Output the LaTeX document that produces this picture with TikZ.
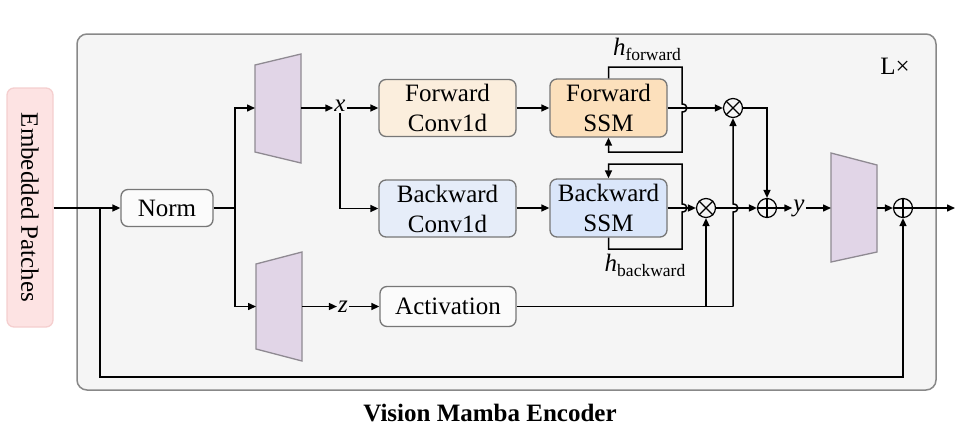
\documentclass[tikz,border=0pt]{standalone}
\usepackage{fontspec}
\setmainfont{Liberation Serif}
\usetikzlibrary{arrows.meta}
\definecolor{bgfill}{HTML}{F5F5F5}
\definecolor{bgdraw}{HTML}{888888}
\definecolor{boxdraw}{HTML}{777777}
\definecolor{epfill}{HTML}{FDE3E3}
\definecolor{epdraw}{HTML}{F5CFCF}
\definecolor{fconvfill}{HTML}{FBEEDD}
\definecolor{fssmfill}{HTML}{FCE0BC}
\definecolor{bconvfill}{HTML}{E6EDF9}
\definecolor{bssmfill}{HTML}{DAE6FA}
\definecolor{trapfill}{HTML}{E1D5E7}
\definecolor{trapdraw}{HTML}{8F8A92}
\tikzset{
  base/.style={font=\fontsize{25}{27}\selectfont},
  blk/.style={base, draw=boxdraw, line width=1.3pt, rounded corners=7pt, align=center, inner sep=0pt},
  lbl/.style={base, inner sep=1pt},
  op/.style={circle, draw=black, line width=1.2pt, minimum size=19pt, inner sep=0pt},
  wire/.style={line width=1.5pt, black},
  arr/.style={wire, -{Triangle[length=8pt,width=7pt]}},
  trap/.style={fill=trapfill, draw=trapdraw, line width=1.3pt},
}
\begin{document}
\begin{tikzpicture}[x=1pt,y=-1pt]
\useasboundingbox (0,0) rectangle (980,440);
% outer encoder box
\draw[fill=bgfill, draw=bgdraw, line width=1.5pt, rounded corners=10pt] (77,34) rectangle (936,390);
\node[base] (lx) at (895,66) {L×};
\node[base, font=\fontsize{25}{27}\selectfont\bfseries] (title) at (490,413) {Vision Mamba Encoder};

% Embedded patches
\node[blk, draw=epdraw, fill=epfill, minimum width=46pt, minimum height=239pt] (ep) at (30,207.5) {\rotatebox{-90}{Embedded Patches}};
% Norm
\node[blk, fill=white!60!bgfill, minimum width=92pt, minimum height=37pt] (norm) at (167,208) {Norm};

% trapezoids
\draw[trap] (255,65) -- (301,54) -- (301,163) -- (255,152) -- cycle;
\draw[trap] (256,264) -- (302,252) -- (302,361) -- (256,349) -- cycle;
\draw[trap] (831,153) -- (877,165) -- (877,252) -- (831,262) -- cycle;
\coordinate (t1in) at (255,108);
\coordinate (t1out) at (301,108);
\coordinate (t2in) at (256,306.5);
\coordinate (t2out) at (302,306.5);
\coordinate (t3in) at (831,208);
\coordinate (t3out) at (877,208);

% labels
\node[lbl] (xl) at (340,106) {\itshape x};
\node[lbl] (zl) at (343,306.5) {\itshape z};
\node[lbl] (yl) at (799,208) {\itshape y};

% blocks
\node[blk, fill=fconvfill, minimum width=137pt, minimum height=57pt] (fconv) at (447.5,108) {Forward\\[3pt]Conv1d};
\node[blk, fill=bconvfill, minimum width=137pt, minimum height=57pt] (bconv) at (447.5,208.5) {Backward\\[3pt]Conv1d};
\node[blk, fill=fssmfill, minimum width=117pt, minimum height=58pt] (fssm) at (608.5,108) {Forward\\[3pt]SSM};
\node[blk, fill=bssmfill, minimum width=117pt, minimum height=58pt] (bssm) at (608.5,208) {Backward\\[3pt]SSM};
\node[blk, fill=white!60!bgfill, minimum width=136pt, minimum height=40pt] (act) at (448,306.5) {Activation};

% operators
\node[op] (mul1) at (733,108) {};
\node[op] (mul2) at (706,208) {};
\node[op] (add1) at (767,208) {};
\node[op] (add2) at (903,208) {};
\foreach \m in {mul1,mul2}{
  \draw[line width=1.1pt] (\m.north west) -- (\m.south east) (\m.north east) -- (\m.south west);
}
\foreach \m in {add1,add2}{
  \draw[line width=1.1pt] (\m.north) -- (\m.south) (\m.west) -- (\m.east);
}

% h labels
\node[lbl] (hf) at (647,49) {{\itshape h}\raisebox{-5pt}{\fontsize{17.5}{18}\selectfont forward}};
\node[lbl] (hb) at (645,265) {{\itshape h}\raisebox{-5pt}{\fontsize{17.5}{18}\selectfont backward}};

% main path
\coordinate (br) at (235,208);
\coordinate (res) at (100,208);
\coordinate (out) at (955,208);
\draw[arr] (ep.east |- norm) -- (norm.west);
\draw[wire] (norm.east) -- (br);
\draw[arr] (br) |- (t1in);
\draw[arr] (br) |- (t2in);
\draw[arr] (t1out) -- (xl.west |- t1out);
\draw[arr] (xl.east |- t1out) -- (fconv.west);
\draw[arr] (xl.south) |- (bconv.west);
\draw[arr] (t2out) -- (zl.west);
\draw[arr] (zl.east) -- (act.west);
\draw[arr] (fconv.east) -- (fssm.west);
\draw[arr] (bconv.east |- bssm) -- (bssm.west);

% forward loop
\coordinate (fl1) at (608.5,67);
\coordinate (fl2) at (682,67);
\coordinate (fl3) at (682,152);
\coordinate (fl4) at (608.5,152);
\draw[arr] (fssm.north) -- (fl1) -- (fl2) -- (682,104) .. controls (688.5,104) and (688.5,112) .. (682,112) -- (fl3) -- (fl4) -- (fssm.south);
% backward loop
\coordinate (bl1) at (608.5,249);
\coordinate (bl2) at (682,249);
\coordinate (bl3) at (682,164);
\coordinate (bl4) at (608.5,164);
\draw[arr] (bssm.south) -- (bl1) -- (bl2) -- (682,212) .. controls (688.5,212) and (688.5,204) .. (682,204) -- (bl3) -- (bl4) -- (bssm.north);

\draw[arr] (fssm.east) -- (mul1.west);
\draw[arr] (bssm.east) -- (mul2.west);
\draw[arr] (mul2.east) -- (add1.west);
\draw[arr] (mul1.east) -| (add1.north);

% activation gates
\coordinate (ga) at (733,306.5);
\coordinate (gb) at (706,306.5);
\draw[wire] (act.east) -- (ga);
\draw[arr] (ga) -- (733,212) .. controls (739.5,212) and (739.5,204) .. (733,204) -- (mul1.south);
\draw[arr] (gb) -- (mul2.south);

% output
\draw[arr] (add1.east) -- (yl.west);
\draw[arr] (yl.east) -- (t3in);
\draw[arr] (t3out) -- (add2.west);
\draw[arr] (add2.east) -- (out);
\draw[arr] (res) -- (100,377) -| (add2.south);
\end{tikzpicture}
\end{document}
